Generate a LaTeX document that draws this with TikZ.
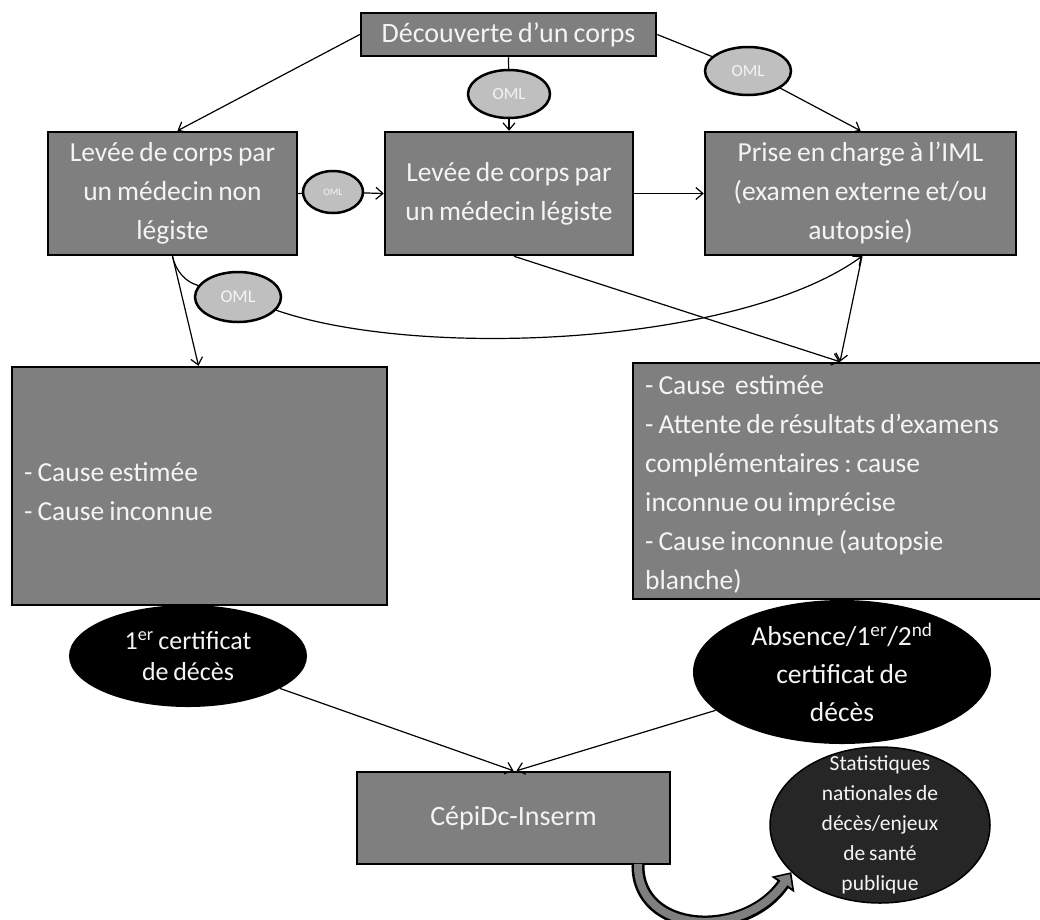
\documentclass[tikz,border=0pt]{standalone}
\usepackage{fontspec}
\setmainfont{Carlito}[WordSpace=0.8]
\usetikzlibrary{arrows.meta,shapes.geometric,calc}
\definecolor{boxgray}{HTML}{7F7F7F}
\definecolor{omlgray}{HTML}{BFBFBF}
\definecolor{statfill}{HTML}{262626}
\definecolor{txtwhite}{HTML}{F4F4F4}
\frenchspacing
\begin{document}
\begin{tikzpicture}[x=1pt,y=-1pt,
  box/.style={draw=black, line width=2.5pt, fill=boxgray, text=txtwhite, inner sep=0pt, align=center, font=\fontsize{27.5}{39}\selectfont},
  boxtext/.style={text=txtwhite, inner sep=0pt, align=left, anchor=west, font=\fontsize{27.5}{39}\selectfont},
  oml/.style={ellipse, draw=black, line width=2.5pt, fill=omlgray, text=txtwhite, inner sep=0pt},
  blackell/.style={ellipse, fill=black, inner sep=0pt},
  elltext/.style={text=txtwhite, align=center, inner sep=0pt},
  conn/.style={draw=black, line width=1.2pt},
  arr/.style={conn, -{Straight Barb[length=7pt,width=12pt]}},
]
\useasboundingbox (0,0) rectangle (1040,919);
\clip (0,0) rectangle (1040,919);
\fill[white] (0,0) rectangle (1040,919);

% black ellipses (behind boxes)
\node[blackell, minimum width=238pt, minimum height=102pt] (E1) at (188,656) {};
\node[elltext, font=\fontsize{26}{31}\selectfont] (E1t) at (E1) {1\textsuperscript{er} certificat\\de décès};
\node[blackell, minimum width=298pt, minimum height=144pt] (E2) at (842,672) {};
\node[elltext, font=\fontsize{27.5}{38}\selectfont] (E2t) at (E2) {Absence/1\textsuperscript{er}/2\textsuperscript{nd}\\certificat de\\décès};

% boxes
\node[box, minimum width=295pt, minimum height=43pt, font=\fontsize{28}{34}\selectfont] (dec) at (508.5,34.5) {Découverte d’un corps};
\node[box, minimum width=249pt, minimum height=123pt] (L1) at (172.5,193.5) {Levée de corps par\\un médecin non\\légiste};
\node[box, minimum width=248pt, minimum height=123pt] (M) at (509,193.5) {Levée de corps par\\un médecin légiste};
\node[box, minimum width=311pt, minimum height=123pt] (R) at (860.5,193.5) {Prise en charge à l’IML\\(examen externe et/ou\\autopsie)};
\node[box, minimum width=375pt, minimum height=238pt] (BL) at (199.5,486) {};
\node[boxtext] (BLt) at (24,492) {- Cause estimée\\- Cause inconnue};
\node[box, minimum width=412pt, minimum height=236pt] (BR) at (839,481) {};
\node[boxtext] (BRt) at (645,484) {- Cause~ estimée\\- Attente de résultats d’examens\\complémentaires : cause\\inconnue ou imprécise\\- Cause inconnue (autopsie\\blanche)};

% OML ellipses
\node[oml, minimum width=82pt, minimum height=48pt, font=\fontsize{17}{17}\selectfont] (O1) at (509,94) {OML};
\node[oml, minimum width=86pt, minimum height=48pt, font=\fontsize{17}{17}\selectfont] (O2) at (748,71) {OML};
\node[oml, minimum width=60pt, minimum height=42pt, font=\fontsize{10}{10}\selectfont] (O3) at (333,192) {OML};
\node[oml, minimum width=86pt, minimum height=50pt, font=\fontsize{18}{18}\selectfont] (O4) at (238,297) {OML};

% statistics ellipse
\node[ellipse, draw=black, line width=1.5pt, fill=statfill, minimum width=220pt, minimum height=156pt, inner sep=0pt] (St) at (880,825) {};
\node[elltext, font=\fontsize{21.5}{30}\selectfont] (Stt) at (St) {Statistiques\\nationales de\\décès/enjeux\\de santé\\publique};

% CepiDc box
\node[box, minimum width=313pt, minimum height=92pt, font=\fontsize{28}{34}\selectfont] (Cep) at (513.5,818) {CépiDc-Inserm};

% connectors
\draw[arr] (dec.west) -- ([xshift=5pt]L1.north);
\draw[conn] (dec.south) -- (O1);
\draw[arr] (O1) -- (M.north);
\draw[conn] (dec.east) -- (O2);
\draw[arr] (O2) -- (R.north);
\draw[conn] (L1.east) -- (O3);
\draw[arr] (O3) -- (M.west);
\draw[arr] (M.east) -- (R.west);
\draw[arr] (L1.south) -- ([xshift=-1pt]BL.north);
\draw[conn] (L1.south) .. controls (176,272) and (186,282) .. (O4);
\draw[arr] (O4) .. controls (420,360) and (740,345) .. ([xshift=1.5pt]R.south);
\draw[arr] ([xshift=5pt]M.south) -- ([xshift=1pt]BR.north);
\draw[arr] ([xshift=1.5pt]R.south) -- ([xshift=1pt]BR.north);
\draw[arr] (E1) -- (Cep.north);
\draw[arr] (E2) -- ([xshift=3pt]Cep.north);

% thick curved arrow
\draw[line width=13pt, black, -{Triangle[length=15pt,width=27pt]}] ($(Cep.south)+(124.5,-1.5)$) .. controls (636,935) and (745,940) .. (St.208);
\draw[line width=8pt, boxgray, -{Triangle[length=10.5pt,width=19pt]}, shorten >=2.5pt] ($(Cep.south)+(124.5,-1.5)$) .. controls (636,935) and (745,940) .. (St.208);
\end{tikzpicture}
\end{document}
